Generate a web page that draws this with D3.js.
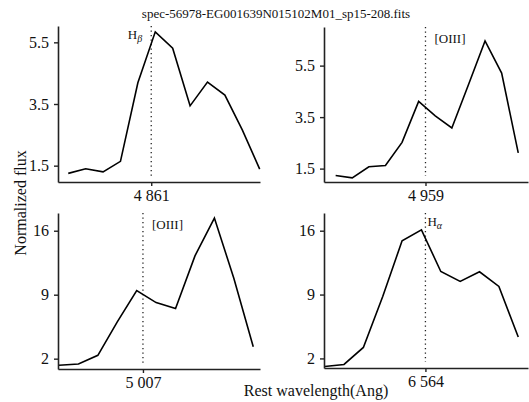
<!DOCTYPE html>
<html>
  <head>
    <meta charset="utf-8">
    <title>Line profiles</title>
    <script src="https://d3js.org/d3.v7.min.js"></script>
    <style>
      body { margin: 0; background: #fff; }
      svg text { font-family: "Liberation Serif", "Times New Roman", serif; fill: #111; }
    </style>
  </head>
  <body>
    <svg width="529" height="402"></svg>
    <script>
      const title = "spec-56978-EG001639N015102M01_sp15-208.fits";

      // rest wavelengths (Angstrom) of each pixel
      const waveHb = [4855.66, 4856.78, 4857.90, 4859.02, 4860.14, 4861.26, 4862.38, 4863.50, 4864.62, 4865.74, 4866.86, 4867.98];
      const fluxHb = [1.25, 1.40, 1.30, 1.64, 4.19, 5.84, 5.31, 3.44, 4.21, 3.79, 2.66, 1.39];

      const waveO4959 = [4952.83, 4953.97, 4955.11, 4956.25, 4957.39, 4958.53, 4959.67, 4960.81, 4961.95, 4963.09, 4964.23, 4965.37];
      const fluxO4959 = [1.23, 1.14, 1.57, 1.62, 2.52, 4.11, 3.55, 3.08, 4.76, 6.46, 5.21, 2.11];

      const waveO5007 = [5002.03, 5003.18, 5004.33, 5005.48, 5006.63, 5007.78, 5008.93, 5010.08, 5011.23, 5012.38, 5013.53];
      const fluxO5007 = [1.28, 1.42, 2.37, 6.02, 9.45, 8.14, 7.48, 13.25, 17.38, 10.81, 3.31];

      const waveHa = [6556.14, 6557.65, 6559.16, 6560.67, 6562.18, 6563.69, 6565.20, 6566.71, 6568.22, 6569.73, 6571.24];
      const fluxHa = [1.12, 1.34, 3.20, 8.79, 14.89, 16.09, 11.53, 10.44, 11.50, 9.89, 4.34];

      const lineCenters = [4861, 4959, 5007, 6564];
      const lineNames = ["H", "[OIII]", "[OIII]", "H"];
      const lineSubs = ["β", "", "", "α"];
      const xDomains = [[4855.0, 4868.0], [4952.03, 4966.04], [5001.97, 5013.93], [6556.09, 6572.0]];
      const yDomains = [[0.97, 6.03], [0.98, 7.0], [0.87, 17.94], [0.95, 17.94]];
      const yTicks = [[1.5, 3.5, 5.5], [1.5, 3.5, 5.5], [2, 9, 16], [2, 9, 16]];

      const panels = [
        {wave: waveHb, flux: fluxHb, box: {left: 58, top: 26, right: 260, bottom: 182}, labelSide: "left"},
        {wave: waveO4959, flux: fluxO4959, box: {left: 324, top: 27, right: 528, bottom: 182}, labelSide: "right"},
        {wave: waveO5007, flux: fluxO5007, box: {left: 58, top: 213, right: 260, bottom: 369}, labelSide: "right"},
        {wave: waveHa, flux: fluxHa, box: {left: 324, top: 213, right: 528, bottom: 368}, labelSide: "near"}
      ];

      const serif = '"Liberation Serif", "Times New Roman", serif';
      const svg = d3.select("svg");
      const fmt = d3.formatLocale({decimal: ".", thousands: " ", grouping: [3], currency: ["", ""]}).format(",");

      function drawPanel(p, i) {
        const b = p.box;
        const x = d3.scaleLinear().domain(xDomains[i]).range([b.left, b.right]);
        const y = d3.scaleLinear().domain(yDomains[i]).range([b.bottom, b.top]);
        const g = svg.append("g");

        // dotted rest-wavelength marker
        g.append("line")
          .attr("x1", x(lineCenters[i])).attr("x2", x(lineCenters[i]))
          .attr("y1", b.top).attr("y2", b.bottom - 6)
          .attr("stroke", "#222").attr("stroke-width", 1.3)
          .attr("stroke-dasharray", "1.3,3.2");

        const line = d3.line().x((d, k) => x(p.wave[k])).y(d => y(d));
        g.append("path").datum(p.flux)
          .attr("d", line)
          .attr("fill", "none").attr("stroke", "#000")
          .attr("stroke-width", 1.6).attr("stroke-linejoin", "miter");

        const xAxis = g.append("g")
          .attr("transform", `translate(0,${b.bottom})`)
          .call(d3.axisBottom(x).tickValues([lineCenters[i]]).tickFormat(fmt).tickSize(4).tickSizeOuter(0).tickPadding(4));
        const yAxis = g.append("g")
          .attr("transform", `translate(${b.left},0)`)
          .call(d3.axisLeft(y).tickValues(yTicks[i]).tickFormat(d3.format("")).tickSize(4).tickSizeOuter(0).tickPadding(5));
        [xAxis, yAxis].forEach(a => {
          a.attr("font-family", null).attr("font-size", null);
          a.select(".domain").attr("stroke", "#222").attr("stroke-width", 1.6);
          a.selectAll(".tick line").attr("stroke", "#222").attr("stroke-width", 1.4);
          a.selectAll(".tick text")
            .style("font-family", serif).style("font-size", "16px").style("fill", "#111");
        });

        // line name
        const xc = x(lineCenters[i]);
        let lx, anchor, ly;
        if (p.labelSide === "left") { lx = xc - 9; anchor = "end"; ly = b.top + 13; }
        else if (p.labelSide === "right") { lx = xc + 9; anchor = "start"; ly = b.top + 16; }
        else { lx = xc + 2; anchor = "start"; ly = b.top + 13; }
        const t = g.append("text")
          .attr("x", lx).attr("y", ly)
          .attr("text-anchor", anchor)
          .style("font-size", "13px");
        t.append("tspan").text(lineNames[i]);
        if (lineSubs[i]) {
          t.append("tspan").attr("dy", 3).style("font-size", "10px").style("font-style", "italic").text(lineSubs[i]);
        }
      }

      panels.forEach(drawPanel);

      svg.append("text")
        .attr("x", 276).attr("y", 18)
        .attr("text-anchor", "middle")
        .style("font-size", "13px")
        .text(title);

      svg.append("text")
        .attr("transform", "translate(26,203) rotate(-90)")
        .attr("text-anchor", "middle")
        .style("font-size", "16px")
        .text("Normalized flux");

      svg.append("text")
        .attr("x", 316).attr("y", 396)
        .attr("text-anchor", "middle")
        .style("font-size", "16px")
        .text("Rest wavelength(Ang)");
    </script>
  </body>
</html>
